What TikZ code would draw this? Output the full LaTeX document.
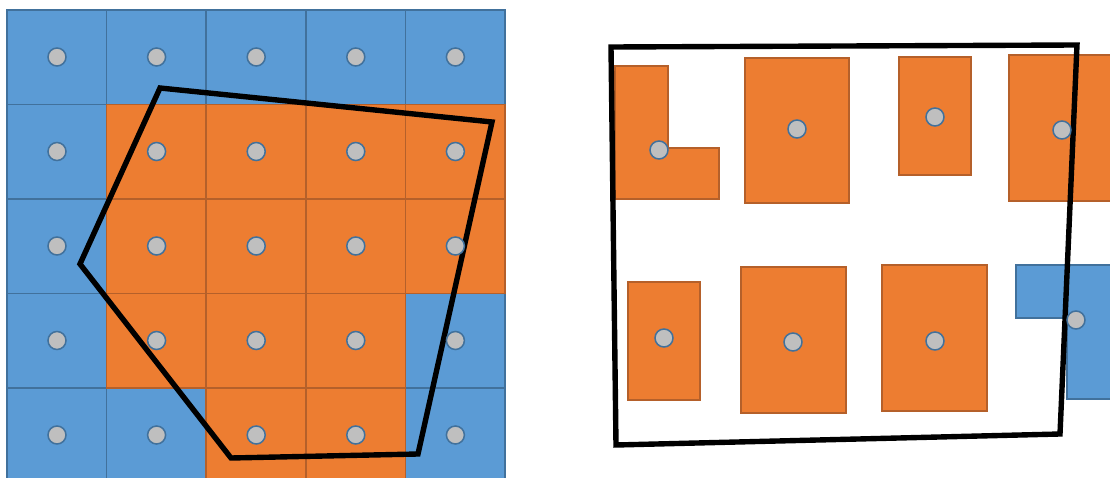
\documentclass[tikz,border=0pt]{standalone}
\usepackage{tikz}
\definecolor{cellBlue}{HTML}{5B9BD5}
\definecolor{cellBlueLine}{HTML}{41719C}
\definecolor{cellOrange}{HTML}{ED7D31}
\definecolor{cellOrangeLine}{HTML}{B5602A}
\definecolor{probeFill}{HTML}{BFBFBF}

\begin{document}
\begin{tikzpicture}[
    x=0.03cm, y=-0.03cm,
    bluecell/.style={
        fill=cellBlue,
        draw=cellBlueLine,
        line width=1.3pt
    },
    orangecell/.style={
        fill=cellOrange,
        draw=cellOrangeLine,
        line width=1.3pt
    },
    probe/.style={
        circle,
        draw=cellBlueLine,
        fill=probeFill,
        line width=1.3pt,
        minimum size=0.54cm,
        inner sep=0pt
    },
    hull/.style={
        draw=black,
        line width=4.6pt,
        line join=miter
    }
]
\useasboundingbox (0,0) rectangle (1110,478);

% Grid of cells
\foreach \i in {0,...,4}{
    \foreach \j in {0,...,4}{
        \draw[bluecell] (7+99.6*\i,10+94.5*\j) rectangle ++(99.6,94.5);
    }
}
\foreach \i/\j in {1/1,2/1,3/1,4/1,1/2,2/2,3/2,4/2,1/3,2/3,3/3,2/4,3/4}{
    \draw[orangecell] (7+99.6*\i,10+94.5*\j) rectangle ++(99.6,94.5);
}

% Left polygon
\coordinate (la) at (160,88);
\coordinate (lb) at (492,122);
\coordinate (lc) at (418,454);
\coordinate (ld) at (231,458);
\coordinate (le) at (80,264);
\draw[hull] (la) -- (lb) -- (lc) -- (ld) -- (le) -- cycle;

% Cell centres
\foreach \i in {0,...,4}{
    \foreach \j in {0,...,4}{
        \node[probe] (c-\i-\j) at (57+99.6*\i,57+94.5*\j) {};
    }
}

% Buildings
\draw[orangecell] (615,66) -- (668,66) -- (668,148) -- (719,148)
    -- (719,199) -- (615,199) -- cycle;
\draw[orangecell] (745,58) rectangle (849,203);
\draw[orangecell] (899,57) rectangle (971,175);
\draw[orangecell] (1009,55) rectangle (1120,201);
\draw[orangecell] (628,282) rectangle (700,400);
\draw[orangecell] (741,267) rectangle (846,413);
\draw[orangecell] (882,265) rectangle (987,411);
\draw[bluecell] (1016,265) -- (1120,265) -- (1120,399) -- (1067,399)
    -- (1067,318) -- (1016,318) -- cycle;

% Right polygon
\coordinate (ra) at (611,47);
\coordinate (rb) at (1077,45);
\coordinate (rc) at (1060,434);
\coordinate (rd) at (616,445);
\draw[hull] (ra) -- (rb) -- (rc) -- (rd) -- cycle;

% Building centres
\node[probe] (b1) at (659,150) {};
\node[probe] (b2) at (797,129) {};
\node[probe] (b3) at (935,117) {};
\node[probe] (b4) at (1062,130) {};
\node[probe] (b5) at (664,338) {};
\node[probe] (b6) at (793,342) {};
\node[probe] (b7) at (935,341) {};
\node[probe] (b8) at (1076,320) {};

\end{tikzpicture}
\end{document}
